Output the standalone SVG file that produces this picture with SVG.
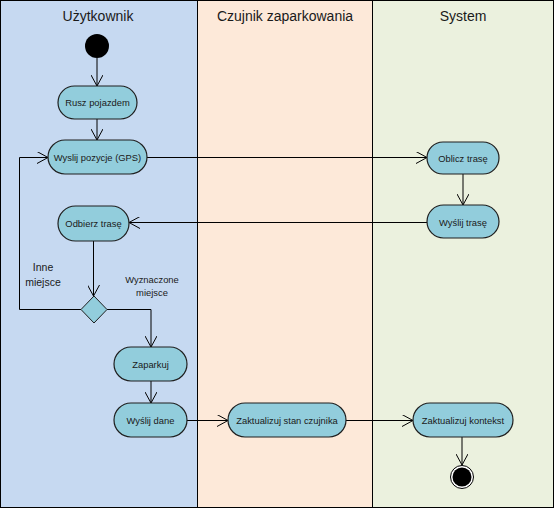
<svg xmlns="http://www.w3.org/2000/svg" width="554" height="508" viewBox="0 0 554 508">
<defs>
<marker id="arr" viewBox="0 0 12 12" refX="11" refY="6" markerWidth="12" markerHeight="12" markerUnits="userSpaceOnUse" orient="auto">
<path d="M0,0 L11,6 L0,12" fill="none" stroke="#000" stroke-width="1"/>
</marker>
<style>
.act{fill:#92cddc;stroke:#1f1f1f;stroke-width:1.2}
.t{font-family:"Liberation Sans",Arial,sans-serif;font-size:9.4px;fill:#1a1a1a;text-anchor:middle}
.h{font-family:"Liberation Sans",Arial,sans-serif;font-size:14px;fill:#1a1a1a;text-anchor:middle}
.l{font-family:"Liberation Sans",Arial,sans-serif;font-size:10.5px;fill:#1a1a1a;text-anchor:middle}
.c{fill:none;stroke:#000;stroke-width:1;marker-end:url(#arr)}
</style>
</defs>
<g id="lanes">
<rect x="0.5" y="0.5" width="197" height="507" fill="#c6d9f1"/>
<rect x="197.5" y="0.5" width="175" height="507" fill="#fde9d9"/>
<rect x="372.5" y="0.5" width="181" height="507" fill="#ebf1de"/>
<line x1="197.5" y1="0" x2="197.5" y2="508" stroke="#000"/>
<line x1="372.5" y1="0" x2="372.5" y2="508" stroke="#000"/>
<rect x="0.5" y="0.5" width="553" height="507" fill="none" stroke="#000"/>
<text class="h" x="98" y="21">Użytkownik</text>
<text class="h" x="285" y="21">Czujnik zaparkowania</text>
<text class="h" x="463" y="21">System</text>
</g>
<g id="connectors">
<line class="c" x1="97" y1="58" x2="97" y2="86"/>
<line class="c" x1="97" y1="119" x2="97" y2="140"/>
<line class="c" x1="147" y1="157.5" x2="427" y2="157.5"/>
<line class="c" x1="463" y1="174" x2="463" y2="205"/>
<line class="c" x1="427" y1="222.5" x2="129" y2="222.5"/>
<line class="c" x1="93.5" y1="241" x2="93.5" y2="296"/>
<polyline class="c" points="81,309.5 19.5,309.5 19.5,157.5 48,157.5"/>
<polyline class="c" points="107,309.5 151,309.5 151,347"/>
<line class="c" x1="151" y1="381" x2="151" y2="403"/>
<line class="c" x1="187" y1="420.5" x2="228" y2="420.5"/>
<line class="c" x1="346" y1="420.5" x2="413" y2="420.5"/>
<line class="c" x1="462" y1="437" x2="462" y2="465"/>
<text class="l" x="43" y="271">Inne</text>
<text class="l" x="43" y="286">miejsce</text>
<text class="t" x="152" y="283">Wyznaczone</text>
<text class="t" x="152" y="296">miejsce</text>
</g>
<g id="start"><circle cx="97" cy="46" r="12" fill="#000"/></g>
<g id="rusz"><rect class="act" x="58" y="86" width="79" height="33" rx="16.5"/><text class="t" x="97.5" y="106">Rusz pojazdem</text></g>
<g id="wyslij-pozycje"><rect class="act" x="48" y="140" width="99" height="34" rx="17"/><text class="t" x="97.5" y="161">Wyslij pozycje (GPS)</text></g>
<g id="odbierz"><rect class="act" x="58" y="206" width="71" height="35" rx="17.5"/><text class="t" x="93.5" y="227">Odbierz trasę</text></g>
<g id="decision"><polygon points="94,296 107,309.5 94,323 81,309.5" fill="#92cddc" stroke="#1f1f1f" stroke-width="1"/></g>
<g id="zaparkuj"><rect class="act" x="114" y="347" width="73" height="34" rx="17"/><text class="t" x="150.5" y="368">Zaparkuj</text></g>
<g id="wyslij-dane"><rect class="act" x="114" y="403" width="73" height="34" rx="17"/><text class="t" x="150.5" y="424">Wyślij dane</text></g>
<g id="oblicz"><rect class="act" x="427" y="142" width="72" height="32" rx="16"/><text class="t" x="463" y="161.5">Oblicz trasę</text></g>
<g id="wyslij-trase"><rect class="act" x="427" y="205" width="72" height="33" rx="16.5"/><text class="t" x="463" y="225.5">Wyślij trasę</text></g>
<g id="stan-czujnika"><rect class="act" x="228" y="403" width="118" height="34" rx="17"/><text class="t" x="287" y="424">Zaktualizuj stan czujnika</text></g>
<g id="kontekst"><rect class="act" x="413" y="403" width="100" height="34" rx="17"/><text class="t" x="463" y="424">Zaktualizuj kontekst</text></g>
<g id="end"><circle cx="462" cy="477" r="11.5" fill="#fff" stroke="#000" stroke-width="1"/><circle cx="462" cy="477" r="9.5" fill="#000"/></g>
</svg>
